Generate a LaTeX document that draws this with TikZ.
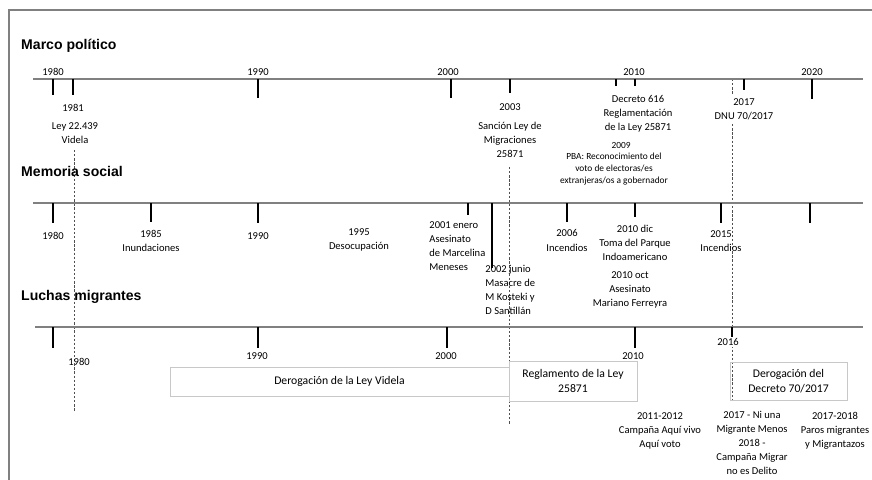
\documentclass[tikz,border=0pt]{standalone}
\usepackage{fontspec}
\setmainfont{Carlito}
\newfontfamily\headfont{Liberation Sans}
\usetikzlibrary{positioning}
\definecolor{AxisGray}{RGB}{128,128,128}
\definecolor{BoxGray}{RGB}{200,200,200}
\definecolor{GuideGray}{RGB}{80,80,80}

\begin{document}
\begin{tikzpicture}[x=0.03cm, y=-0.03cm,
        head/.style={anchor=base west, inner sep=0pt,
                     font=\headfont\bfseries\fontsize{12}{14}\selectfont},
        axis/.style={draw=AxisGray, line width=1.1pt},
        tick/.style={line width=1.2pt},
        lbl/.style={align=center, inner sep=1pt, font=\fontsize{9}{12}\selectfont},
        small/.style={lbl, font=\fontsize{8}{10}\selectfont},
        period/.style={draw=BoxGray, line width=0.6pt, align=center, inner sep=0pt,
                       font=\fontsize{10}{13}\selectfont},
        guide/.style={draw=GuideGray, line width=0.5pt, dash pattern=on 2pt off 1.5pt}
]
    \useasboundingbox (0,0) rectangle (872,480);
    \draw[AxisGray, line width=1.2pt] (9,480) -- (9,10) -- (872,10);

    % guide lines across the three timelines
    \coordinate (g81a) at (74,150);  \coordinate (g81b) at (74,412);
    \coordinate (g03a) at (509,167); \coordinate (g03b) at (509,425);
    \coordinate (g17a) at (732,79);  \coordinate (g17b) at (732,400);
    \draw[guide] (g81a) -- (g81b);
    \draw[guide] (g03a) -- (g03b);
    \draw[guide] (g17a) -- (g17b);

    % Marco politico
    \node[head] (marco) at (21,50) {Marco político};
    \draw[axis] (33,79) -- (863,79);
    \foreach \x/\y in {53/95, 73/95, 258/98, 451/98, 510/93, 616/86, 635/86, 744/90, 812/99}
        \draw[tick] (\x,79) -- (\x,\y);
    \node[lbl] (m1980) at (53,72)  {1980};
    \node[lbl] (m1990) at (258,72) {1990};
    \node[lbl] (m2000) at (448,72) {2000};
    \node[lbl] (m2010) at (634,72) {2010};
    \node[lbl] (m2020) at (812,72) {2020};
    \node[lbl] (m1981) at (73,108) {1981};
    \node[lbl] (videla) at (75,133.5) {Ley 22.439\\Videla};
    \node[lbl] (m2003) at (510,107) {2003};
    \node[lbl] (sancion) at (510,139.5) {Sanción Ley de\\Migraciones\\25871};
    \node[lbl] (decreto) at (638,113.5) {Decreto 616\\Reglamentación\\de la Ley 25871};
    \node[small] (m2009) at (621,145) {2009};
    \node[small] (pba) at (614,169) {PBA: Reconocimiento del\\voto de electoras/es\\extranjeras/os a gobernador};
    \node[lbl, fill=white, inner sep=3pt] (dnu) at (744,109) {2017\\DNU 70/2017};

    % Memoria social
    \node[head] (memoria) at (21,176) {Memoria social};
    \draw[axis] (33,203) -- (863,203);
    \foreach \x/\y in {53/223, 151/222, 258/223, 468/215, 492/268, 567/222, 635/217, 721/223, 810/223}
        \draw[tick] (\x,203) -- (\x,\y);
    \node[lbl] (s1980) at (53,236)  {1980};
    \node[lbl] (inund) at (151,240.5) {1985\\Inundaciones};
    \node[lbl] (s1990) at (258,236) {1990};
    \node[lbl] (desoc) at (359,239.5) {1995\\Desocupación};
    \node[lbl, align=left, anchor=west] (meneses) at (428,246) {2001 enero\\Asesinato\\de Marcelina\\Meneses};
    \node[lbl, align=left, anchor=west] (kosteki) at (484,290) {2002 junio\\Masacre de\\M Kosteki y\\D Santillán};
    \node[lbl] (incend06) at (567,240.5) {2006\\Incendios};
    \node[lbl] (parque) at (635,243) {2010 dic\\Toma del Parque\\Indoamericano};
    \node[lbl] (ferreyra) at (630,290) {2010 oct\\Asesinato\\Mariano Ferreyra};
    \node[lbl] (incend15) at (721,241) {2015\\Incendios};

    % Luchas migrantes
    \node[head] (luchas) at (21,300) {Luchas migrantes};
    \draw[axis] (35,327) -- (863,327);
    \foreach \x/\y in {53/348, 258/348, 447/348, 635/348, 732/337}
        \draw[tick] (\x,327) -- (\x,\y);
    \node[lbl] (l1980) at (79,362)  {1980};
    \node[lbl] (l1990) at (257,356) {1990};
    \node[lbl] (l2000) at (446,356) {2000};
    \node[lbl] (l2010) at (633,356) {2010};
    \node[lbl, fill=white] (l2016) at (728,342) {2016};
    \node[period, minimum width=10.17cm, minimum height=0.87cm] (derogvid) at (339.5,381.5)
        {Derogación de la Ley Videla};
    \node[period, minimum width=3.84cm, minimum height=1.2cm] (reglam) at (573,381)
        {Reglamento de la Ley\\25871};
    \node[period, minimum width=3.51cm, minimum height=1.14cm] (derogdec) at (788.5,381)
        {Derogación del\\Decreto 70/2017};
    \node[lbl] (aquivivo) at (660,430.5) {2011-2012\\Campaña Aquí vivo\\Aquí voto};
    \node[lbl] (niuna) at (752,443) {2017 - Ni una\\Migrante Menos\\2018 -\\Campaña Migrar\\no es Delito};
    \node[lbl] (paros) at (835,430.5) {2017-2018\\Paros migrantes\\y Migrantazos};
\end{tikzpicture}
\end{document}
